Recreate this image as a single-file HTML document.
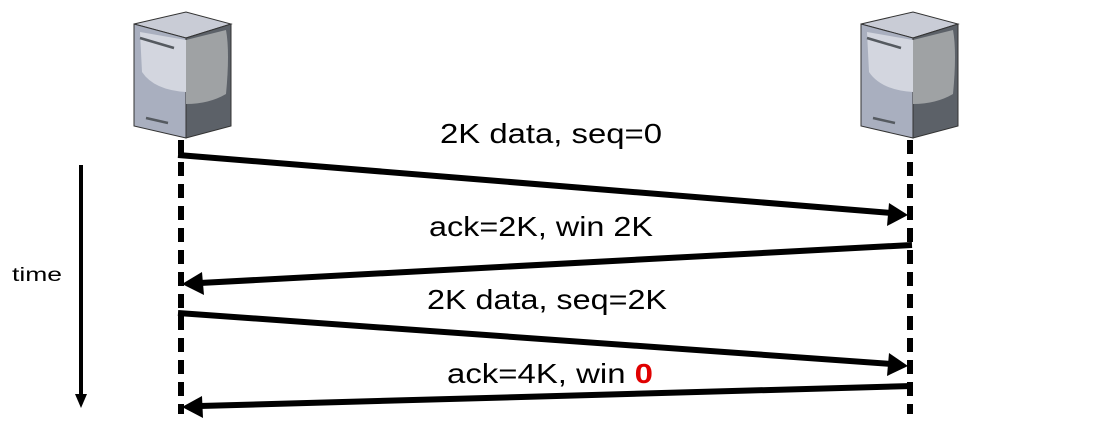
<!DOCTYPE html>
<html><head><meta charset="utf-8"><style>html,body{margin:0;padding:0;background:#fff;}svg{display:block}</style></head>
<body>
<svg width="1105" height="429" viewBox="0 0 1105 429" xmlns="http://www.w3.org/2000/svg" font-family="Liberation Sans, sans-serif">
<defs>
<g id="srv">
  <polygon points="0,12 52,0 97,12 52,26" fill="#c9ccd6" stroke="#333" stroke-width="1"/>
  <polygon points="0,12 52,26 52,126 0,114" fill="#a9afbf" stroke="#333" stroke-width="1"/>
  <polygon points="52,26 97,12 97,114 52,126" fill="#5c6168" stroke="#333" stroke-width="1"/>
  <path d="M6,20 L52,28 L52,80 Q20,78 8,60 Z" fill="#d3d6df"/>
  <path d="M52,28 L92,18 Q96,40 92,82 Q75,92 52,92 Z" fill="#9fa2a4"/>
  <line x1="6" y1="26" x2="40" y2="36" stroke="#555a60" stroke-width="2.5"/>
  <line x1="12" y1="106" x2="34" y2="111" stroke="#555a60" stroke-width="2.5"/>
</g>
</defs>
<use href="#srv" x="134" y="12"/>
<use href="#srv" x="861" y="12"/>
<line x1="181" y1="140" x2="181" y2="414" stroke="#000" stroke-width="6" stroke-dasharray="14,8"/>
<line x1="910" y1="140" x2="910" y2="414" stroke="#000" stroke-width="6" stroke-dasharray="14,8"/>
<g stroke="#000" stroke-width="6" fill="none">
<line x1="178" y1="155" x2="892" y2="213"/>
<line x1="912" y1="245" x2="200" y2="283"/>
<line x1="178" y1="313" x2="892" y2="364"/>
<line x1="912" y1="386" x2="200" y2="406"/>
</g>
<line x1="81" y1="165" x2="81" y2="396" stroke="#000" stroke-width="4"/>
<g fill="#000">
<polygon points="908,215 889,203 887,226"/>
<polygon points="182,284 202,272 204,295"/>
<polygon points="908,366 889,353 887,376"/>
<polygon points="182,407 202,396 203,418"/>
<polygon points="81,408 75,394 87,394"/>
</g>
<g font-size="28" text-anchor="middle" fill="#000">
<text x="551" y="143" textLength="222" lengthAdjust="spacingAndGlyphs">2K data, seq=0</text>
<text x="541" y="236" textLength="224" lengthAdjust="spacingAndGlyphs">ack=2K, win 2K</text>
<text x="547" y="309" textLength="240" lengthAdjust="spacingAndGlyphs">2K data, seq=2K</text>
<text x="550" y="383" textLength="206" lengthAdjust="spacingAndGlyphs">ack=4K, win <tspan fill="#e00000" font-weight="bold">0</tspan></text>
</g>
<text x="12" y="281" font-size="19" fill="#000" textLength="50" lengthAdjust="spacingAndGlyphs">time</text>
</svg>
</body></html>
